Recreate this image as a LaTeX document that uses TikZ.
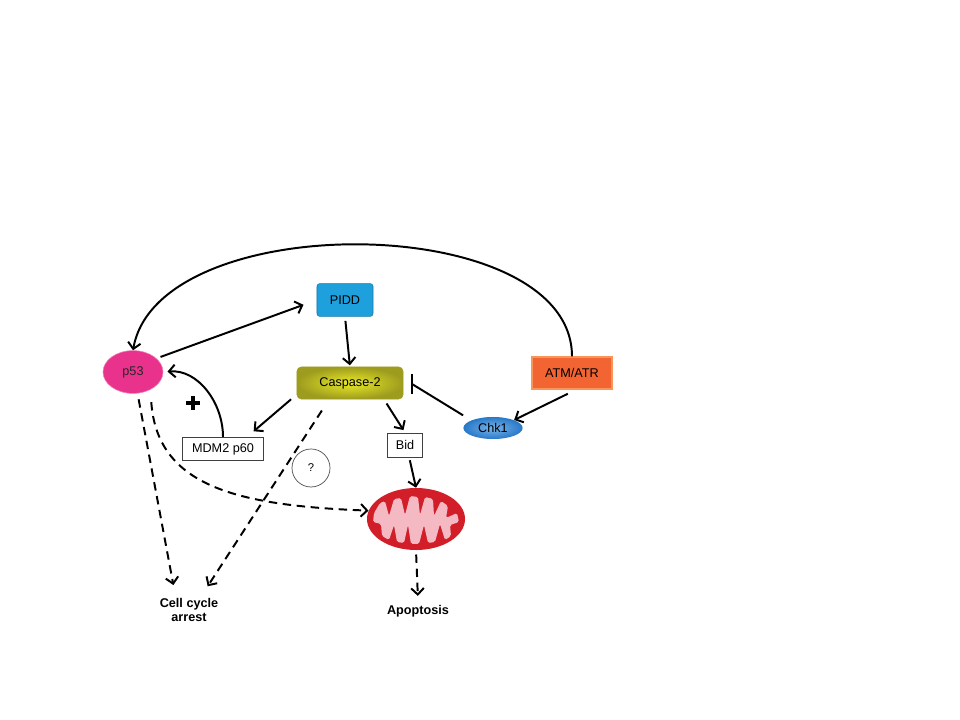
\documentclass[tikz,border=0pt]{standalone}
\usepackage{fontspec}
\setmainfont{Liberation Sans}
\usepackage{tikz}
\usetikzlibrary{arrows.meta,shapes.geometric}

\definecolor{pfiftythree}{RGB}{232,50,140}
\definecolor{piddblue}{RGB}{30,160,220}
\definecolor{caspin}{RGB}{234,234,40}
\definecolor{caspout}{RGB}{158,156,30}
\definecolor{atmred}{RGB}{242,100,50}
\definecolor{atmrim}{RGB}{248,150,90}
\definecolor{chklight}{RGB}{120,180,235}
\definecolor{chkdark}{RGB}{40,120,200}
\definecolor{mitored}{RGB}{210,30,40}
\definecolor{mitopink}{RGB}{245,185,195}

\begin{document}
\begin{tikzpicture}[x=0.025cm,y=-0.025cm,
  font=\fontsize{9}{10}\selectfont,
  arr/.style={line width=1.4pt,-{Straight Barb[length=4.5pt,width=9pt]}},
  dasharr/.style={arr,dash pattern=on 6pt off 4pt},
  plainbox/.style={draw=black!75,line width=0.7pt,fill=white,minimum height=0.58cm}]
  \useasboundingbox (0,0) rectangle (960,720);

  \node[ellipse,minimum width=1.5cm,minimum height=1.07cm,inner sep=0pt,fill=pfiftythree,draw=pfiftythree!60!white,text=black!85] (p53) at (133,372) {p53};
  \node[rounded corners=2pt,minimum width=1.4cm,minimum height=0.82cm,fill=piddblue,draw=piddblue!75!black] (pidd) at (345,300) {PIDD};
  \node[rounded corners=3pt,minimum width=2.65cm,minimum height=0.8cm,inner color=caspin,outer color=caspout,draw=caspout] (casp) at (350,383) {Caspase-2};
  \node[minimum width=2cm,minimum height=0.8cm,fill=atmred,draw=atmrim,line width=0.8pt] (atm) at (572,373) {ATM/ATR};
  \node[ellipse,minimum width=1.48cm,minimum height=0.55cm,inner sep=0pt,inner color=chklight,outer color=chkdark] (chk) at (493,428) {Chk1};
  \node[plainbox,minimum width=0.875cm,minimum height=0.6cm] (bid) at (405,445) {Bid};
  \node[plainbox,minimum width=2cm] (mdm) at (223,449) {MDM2 p60};
  \node[circle,draw=black!70,line width=0.5pt,minimum size=0.95cm,font=\fontsize{8}{9}\selectfont] (unk) at (311,468) {?};
  \node[ellipse,minimum width=2.45cm,minimum height=1.55cm,fill=mitored] (mito) at (416,519) {};
  \node[font=\fontsize{9}{10}\selectfont\bfseries] (apop) at (418,611) {Apoptosis};
  \node[align=center,font=\fontsize{9}{10}\selectfont\bfseries] (cca) at (189,610) {Cell cycle\\arrest};

  \begin{scope}[shift={(mito.center)}]
    \fill[mitopink,rounded corners=1.2pt] (-42,-6) -- (-36,-16) -- (-31,-18) -- (-27,-3) -- (-22,-20) -- (-15,-21) -- (-11,-4) -- (-6,-23) -- (2,-22) -- (4,-4) -- (9,-22) -- (17,-20) -- (18,-3) -- (25,-18) -- (32,-13) -- (30,-1) -- (41,-6) -- (43,3)
      -- (34,6) -- (35,17) -- (29,21) -- (24,5) -- (19,23) -- (12,24) -- (8,6) -- (3,25) -- (-5,25) -- (-8,6) -- (-12,24) -- (-19,23) -- (-22,6) -- (-27,21) -- (-34,17) -- (-35,5) -- (-43,3) -- cycle;
  \end{scope}

  \draw[arr] (atm.north) to[out=90,in=80,looseness=0.85] (p53.north);
  \draw[arr,shorten <=3pt,shorten >=10pt] (p53.30) -- (pidd.west);
  \draw[arr,shorten <=3pt,shorten >=1pt] (pidd.south) -- (casp.north);
  \draw[arr,shorten >=3pt] (mdm.north) to[out=90,in=5] (p53.east);
  \draw[line width=3.5pt] (186,403) -- (200,403) (193,396) -- (193,410);
  \draw[arr] ([xshift=-4pt]casp.south west) -- ([xshift=-7pt,yshift=4pt]mdm.north east);
  \coordinate (block) at (412,384);
  \draw[line width=1.4pt] ([yshift=9pt]chk.west) -- (block);
  \draw[line width=1.4pt] ([yshift=7pt]block) -- ([yshift=-7pt]block);
  \draw[arr] ([xshift=-3pt,yshift=-3pt]atm.south) -- (chk.north east);
  \draw[arr,shorten >=2pt] ([xshift=26pt,yshift=-3pt]casp.south) -- (bid.north);
  \draw[arr,shorten <=2pt] ([xshift=3pt]bid.south) -- (mito.north);
  \draw[dasharr,shorten >=6pt] ([xshift=-20pt,yshift=-8pt]casp.south) -- ([xshift=10pt]cca.north);
  \draw[dasharr,shorten >=6pt] ([xshift=4pt,yshift=-4pt]p53.south) -- ([xshift=-10pt]cca.north);
  \draw[dasharr] ([xshift=13pt,yshift=-6pt]p53.south) .. controls +(6,85) and +(-130,-5) .. (mito.170);
  \draw[dasharr,shorten <=3pt,shorten >=3pt] (mito.south) -- (apop.north);
\end{tikzpicture}
\end{document}
